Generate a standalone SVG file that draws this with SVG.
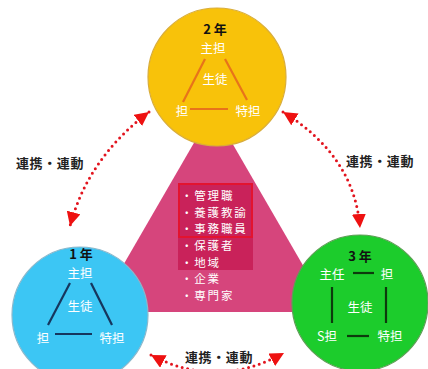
<svg xmlns="http://www.w3.org/2000/svg" width="428" height="369" viewBox="0 0 428 369">
<style>
text{font-family:"Noto Sans CJK JP","Noto Sans",sans-serif}
.w{fill:#ffffff;font-size:12.5px;text-anchor:middle;dominant-baseline:central}
.yr{fill:#111111;font-size:13px;font-weight:bold;text-anchor:middle;dominant-baseline:central}
.li{fill:#ffffff;font-size:11.5px;letter-spacing:1.8px;dominant-baseline:central}
.lab{fill:#222222;font-size:13px;font-weight:bold;text-anchor:middle;dominant-baseline:central;letter-spacing:0.6px}
.dots{fill:none;stroke:#e2141e;stroke-width:3;stroke-linecap:round;stroke-dasharray:0 5.6}
</style>
<defs>
<marker id="ah" markerUnits="userSpaceOnUse" viewBox="0 0 14 14" markerWidth="14" markerHeight="14" refX="14" refY="7" orient="auto-start-reverse">
<path d="M0,0 L14,7 L0,14 z" fill="#ee1111"/>
</marker>
</defs>
<rect width="428" height="369" fill="#ffffff"/>

<g id="center">
<polygon points="213,110 96,312 330,312" fill="#d6457c"/>
<rect x="178" y="183" width="75" height="87" fill="#c9225a"/>
<rect x="179" y="184" width="73" height="53" fill="none" stroke="#e3132f" stroke-width="2"/>
<text class="li" x="181" y="195">・管理職</text>
<text class="li" x="181" y="212">・養護教諭</text>
<text class="li" x="181" y="228">・事務職員</text>
<text class="li" x="181" y="245">・保護者</text>
<text class="li" x="181" y="262">・地域</text>
<text class="li" x="181" y="278">・企業</text>
<text class="li" x="181" y="295">・専門家</text>
</g>

<g id="year2">
<circle cx="217" cy="77" r="69" fill="#f8c20a" stroke="#d9ad3a" stroke-width="1.2"/>
<g stroke="#e8731a" stroke-width="2.2">
<line x1="205" y1="59" x2="183" y2="102"/>
<line x1="225" y1="59" x2="247" y2="100"/>
<line x1="190" y1="109" x2="228" y2="109"/>
</g>
<text class="yr" x="215" y="28">2 年</text>
<text class="w" x="213" y="47">主担</text>
<text class="w" x="215" y="78">生徒</text>
<text class="w" x="182" y="110">担</text>
<text class="w" x="248" y="110">特担</text>
</g>

<g id="year1">
<circle cx="80" cy="315" r="68" fill="#3cc6f4" stroke="#8ab8cc" stroke-width="1.2"/>
<g stroke="#16365e" stroke-width="2.2">
<line x1="70" y1="283" x2="48" y2="325"/>
<line x1="91" y1="283" x2="112" y2="325"/>
<line x1="55" y1="334" x2="92" y2="334"/>
</g>
<text class="yr" x="81" y="253">1 年</text>
<text class="w" x="80" y="272">主担</text>
<text class="w" x="80" y="305">生徒</text>
<text class="w" x="43" y="337">担</text>
<text class="w" x="112" y="337">特担</text>
</g>

<g id="year3">
<circle cx="360" cy="303" r="68" fill="#1ccc2c" stroke="#5e9e56" stroke-width="1.2"/>
<g stroke="#0d3a0d" stroke-width="2.2">
<line x1="353" y1="273" x2="374" y2="273"/>
<line x1="332" y1="287" x2="332" y2="323"/>
<line x1="386" y1="287" x2="386" y2="323"/>
<line x1="347" y1="336" x2="369" y2="336"/>
</g>
<text class="yr" x="360" y="255">3 年</text>
<text class="w" x="332" y="273">主任</text>
<text class="w" x="387" y="273">担</text>
<text class="w" x="360" y="306">生徒</text>
<text class="w" x="327" y="335">S担</text>
<text class="w" x="390" y="335">特担</text>
</g>

<g id="connectors">
<path class="dots" d="M149,112 Q88,158 70,226" marker-start="url(#ah)" marker-end="url(#ah)"/>
<path class="dots" d="M283,112 Q354.5,156 360,228" marker-start="url(#ah)" marker-end="url(#ah)"/>
<path class="dots" d="M151,355 Q217,390 284,353" marker-start="url(#ah)" marker-end="url(#ah)"/>
<text class="lab" x="50" y="162">連携・連動</text>
<text class="lab" x="380" y="160">連携・連動</text>
<text class="lab" x="219" y="356">連携・連動</text>
</g>
</svg>
